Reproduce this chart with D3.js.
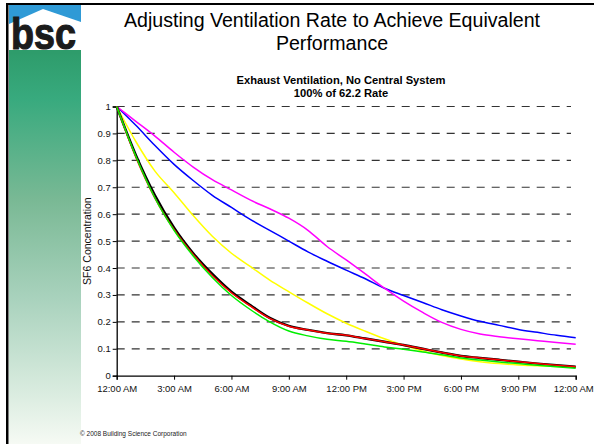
<!DOCTYPE html>
<html>
<head>
<meta charset="utf-8">
<script src="https://cdn.jsdelivr.net/npm/d3@7"></script>
<style>
  html, body { margin: 0; padding: 0; background: #fff; }
  svg { display: block; font-family: Arial, "Liberation Sans", sans-serif; }
</style>
</head>
<body>
<svg id="chart" width="594" height="444"></svg>
<script>
// ---------------- data ----------------
const hours = [0,1,2,3,4,5,6,7,8,9,10,11,12,13,14,15,16,17,18,19,20,21,22,23,24];
const magentaSeries = [1.000,0.945,0.890,0.830,0.775,0.728,0.690,0.652,0.620,0.585,0.540,0.480,0.430,0.378,0.325,0.277,0.235,0.198,0.172,0.155,0.145,0.137,0.130,0.123,0.117];
const blueSeries    = [1.000,0.930,0.855,0.785,0.725,0.670,0.625,0.580,0.540,0.500,0.460,0.425,0.392,0.360,0.325,0.298,0.272,0.245,0.222,0.202,0.187,0.172,0.161,0.150,0.141];
const yellowSeries  = [1.000,0.870,0.760,0.680,0.595,0.518,0.455,0.405,0.355,0.312,0.270,0.230,0.195,0.165,0.137,0.113,0.092,0.075,0.062,0.052,0.045,0.040,0.037,0.034,0.032];
const blackSeries   = [1.000,0.820,0.670,0.550,0.455,0.378,0.312,0.262,0.215,0.185,0.170,0.158,0.150,0.138,0.126,0.114,0.100,0.086,0.073,0.066,0.059,0.052,0.045,0.039,0.033];
const redSeries     = [1.000,0.812,0.660,0.543,0.450,0.372,0.308,0.258,0.213,0.184,0.170,0.158,0.150,0.138,0.126,0.114,0.100,0.086,0.073,0.066,0.059,0.052,0.045,0.039,0.033];
const greenSeries   = [1.000,0.815,0.660,0.540,0.445,0.365,0.298,0.245,0.200,0.166,0.148,0.135,0.128,0.118,0.107,0.098,0.088,0.078,0.066,0.058,0.051,0.045,0.039,0.033,0.028];
const xTickHours  = [0,3,6,9,12,15,18,21,24];
const xTickLabels = ["12:00 AM","3:00 AM","6:00 AM","9:00 AM","12:00 PM","3:00 PM","6:00 PM","9:00 PM","12:00 AM"];
const yTicks      = [0,0.1,0.2,0.3,0.4,0.5,0.6,0.7,0.8,0.9,1];
const yTickLabels = ["0","0.1","0.2","0.3","0.4","0.5","0.6","0.7","0.8","0.9","1"];
const titleLines    = ["Adjusting Ventilation Rate to Achieve Equivalent","Performance"];
const subtitleLines = ["Exhaust Ventilation, No Central System","100% of 62.2 Rate"];
const yAxisTitle = "SF6 Concentration";
const footer = "\u00A9 2008 Building Science Corporation";

// drawing order + colours
const seriesList = [
  {values: blueSeries,    color: "#0000ff", width: 1.5},
  {values: magentaSeries, color: "#ff00ff", width: 1.5},
  {values: yellowSeries,  color: "#ffff00", width: 1.5},
  {values: blackSeries,   color: "#000000", width: 2.4},
  {values: redSeries,     color: "#ff0000", width: 1.5},
  {values: greenSeries,   color: "#00ee00", width: 1.5}
];

// ---------------- layout ----------------
const svg = d3.select("#chart");
const defs = svg.append("defs");

// left decorative strip
const grad = defs.append("linearGradient").attr("id","strip").attr("x1",0).attr("y1",0).attr("x2",0).attr("y2",1);
[[0,"#2e9c6b"],[0.12,"#38aa7e"],[0.38,"#7ab995"],[0.63,"#a9d2bd"],[0.88,"#dcede1"],[1,"#f6faf4"]]
  .forEach(([o,c]) => grad.append("stop").attr("offset",o).attr("stop-color",c));
svg.append("rect").attr("x",9).attr("y",52).attr("width",72).attr("height",392).attr("fill","url(#strip)");

// logo
svg.append("rect").attr("x",9).attr("y",5).attr("width",72).attr("height",48).attr("fill","#2f9ad6");
svg.append("polygon").attr("points","9,24 43,9 81,22 81,53 9,53").attr("fill","#ffffff");
svg.append("rect").attr("x",9).attr("y",50).attr("width",72).attr("height",4).attr("fill","#2e9c6b");
svg.append("text").attr("x",11).attr("y",49)
  .attr("font-family","'Liberation Sans', Arial, sans-serif").attr("font-weight","bold")
  .attr("font-size",45).attr("fill","#1b1b1b").attr("stroke","#1b1b1b").attr("stroke-width",1.2)
  .attr("textLength",65).attr("lengthAdjust","spacingAndGlyphs").text("bsc");

// frame lines
svg.append("rect").attr("x",6).attr("y",3).attr("width",588).attr("height",2).attr("fill","#000");
svg.append("rect").attr("x",6).attr("y",3).attr("width",2.5).attr("height",441).attr("fill","#000");

// titles
svg.append("g").selectAll("text").data(titleLines).join("text")
  .attr("x",332).attr("y",(d,i)=>27+i*22.5).attr("text-anchor","middle")
  .attr("font-size",19.6).attr("fill","#000").text(d=>d);
svg.append("g").selectAll("text").data(subtitleLines).join("text")
  .attr("x",341).attr("y",(d,i)=>84+i*13).attr("text-anchor","middle")
  .attr("font-size",11.2).attr("font-weight","bold").attr("fill","#000").text(d=>d);

// plot
const x = d3.scaleLinear().domain([0,24]).range([116.7,575.7]);
const y = d3.scaleLinear().domain([0,1]).range([375.7,106.5]);

// gridlines
svg.append("g").selectAll("line").data(yTicks.filter(v=>v>0)).join("line")
  .attr("x1",x(0)).attr("x2",571).attr("y1",d=>y(d)).attr("y2",d=>y(d))
  .attr("stroke","#333").attr("stroke-width",1.2).attr("stroke-dasharray","8,7");

// axes
const xAxis = d3.axisBottom(x).tickValues(xTickHours).tickSize(4).tickPadding(6)
  .tickFormat((d,i)=>xTickLabels[i]);
const gx = svg.append("g").attr("transform",`translate(0,${y(0)})`).call(xAxis);
gx.select(".domain").attr("stroke","#000").attr("stroke-width",1.3);
gx.selectAll(".tick line").attr("stroke","#000");
gx.selectAll("text").attr("font-size",9.5).attr("font-family","Arial, 'Liberation Sans', sans-serif").attr("fill","#111");
gx.selectAll(".tick:last-of-type text").attr("dx",-2.5);

const yAxis = d3.axisLeft(y).tickValues(yTicks).tickSize(4).tickPadding(2)
  .tickFormat((d,i)=>yTickLabels[i]);
const gy = svg.append("g").attr("transform",`translate(${x(0)},0)`).call(yAxis);
gy.select(".domain").attr("stroke","#000").attr("stroke-width",1.3);
gy.selectAll(".tick line").attr("stroke","#000");
gy.selectAll("text").attr("font-size",9.5).attr("font-family","Arial, 'Liberation Sans', sans-serif").attr("fill","#111");

svg.append("text").attr("transform",`translate(91,${(y(0)+y(1))/2}) rotate(-90)`)
  .attr("text-anchor","middle").attr("font-size",10.5).attr("fill","#111").text(yAxisTitle);

// lines
const line = d3.line().x((d,i)=>x(hours[i])).y(d=>y(d)).curve(d3.curveMonotoneX);
svg.append("g").selectAll("path").data(seriesList).join("path")
  .attr("d",s=>line(s.values)).attr("fill","none")
  .attr("stroke",s=>s.color).attr("stroke-width",s=>s.width)
  .attr("stroke-linejoin","round");

// footer
svg.append("text").attr("x",80).attr("y",436).attr("font-size",6.5).attr("fill","#222").text(footer);
</script>
</body>
</html>
